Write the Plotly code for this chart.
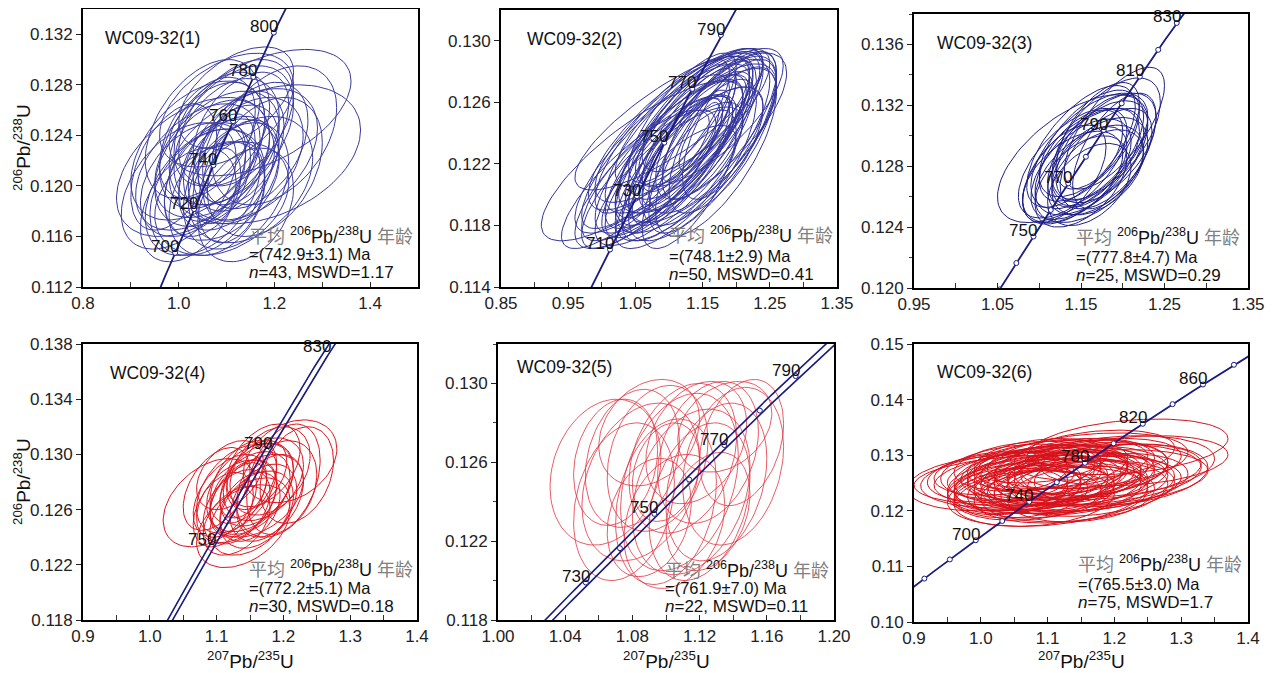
import numpy as np
import plotly.graph_objects as go

# ---------------- constants (U decay) ----------------
LAMBDA_238 = 1.55125e-10
LAMBDA_235 = 9.8485e-10

# ---------------- data: ellipses (cx=207Pb/235U, cy=206Pb/238U, sx, sy, rho) ----------------
P1_ELLIPSES = [
    (1.03, 0.1215, 0.16, 0.0055, 0.45), (1.18, 0.1225, 0.20, 0.0055, 0.35),
    (1.17, 0.1258, 0.19, 0.0050, 0.50), (1.05, 0.1195, 0.12, 0.0050, 0.40),
    (1.10, 0.1210, 0.10, 0.0045, 0.40), (1.08, 0.1225, 0.13, 0.0050, 0.45),
    (1.12, 0.1200, 0.11, 0.0050, 0.35), (1.06, 0.1205, 0.09, 0.0045, 0.40),
    (1.14, 0.1220, 0.12, 0.0050, 0.40), (1.09, 0.1190, 0.14, 0.0045, 0.30),
    (1.00, 0.1200, 0.12, 0.0050, 0.45), (1.11, 0.1240, 0.13, 0.0055, 0.45),
    (1.07, 0.1232, 0.11, 0.0050, 0.40), (1.13, 0.1212, 0.08, 0.0040, 0.35),
    (1.10, 0.1222, 0.06, 0.0035, 0.35), (1.08, 0.1190, 0.10, 0.0045, 0.30),
    (1.04, 0.1228, 0.14, 0.0055, 0.45), (1.15, 0.1205, 0.13, 0.0050, 0.35),
    (1.12, 0.1250, 0.12, 0.0050, 0.45), (1.06, 0.1195, 0.12, 0.0050, 0.35),
    (1.09, 0.1245, 0.10, 0.0045, 0.40), (1.16, 0.1232, 0.11, 0.0050, 0.40),
    (1.02, 0.1185, 0.10, 0.0045, 0.40), (1.11, 0.1195, 0.07, 0.0040, 0.30),
    (1.07, 0.1212, 0.07, 0.0040, 0.40), (1.13, 0.1230, 0.09, 0.0045, 0.40),
    (0.99, 0.1215, 0.09, 0.0050, 0.45), (1.18, 0.1215, 0.12, 0.0055, 0.35),
    (1.10, 0.1260, 0.14, 0.0045, 0.45), (1.05, 0.1245, 0.12, 0.0055, 0.45),
    (1.14, 0.1185, 0.10, 0.0045, 0.30), (1.08, 0.1200, 0.05, 0.0030, 0.30),
    (1.20, 0.1240, 0.13, 0.0055, 0.40), (1.03, 0.1205, 0.11, 0.0045, 0.40),
    (1.12, 0.1270, 0.12, 0.0040, 0.50), (1.10, 0.1235, 0.11, 0.0050, 0.40),
    (1.07, 0.1218, 0.12, 0.0050, 0.40), (1.13, 0.1245, 0.10, 0.0045, 0.45),
    (1.09, 0.1205, 0.12, 0.0048, 0.35), (1.15, 0.1225, 0.14, 0.0052, 0.40),
    (1.04, 0.1215, 0.13, 0.0050, 0.45), (1.12, 0.1222, 0.09, 0.0042, 0.35),
    (1.06, 0.1238, 0.10, 0.0048, 0.45),
]

P2_ELLIPSES = [
    (1.06, 0.1222, 0.150, 0.0052, 0.80), (1.15, 0.1240, 0.125, 0.0052, 0.75),
    (1.12, 0.1235, 0.100, 0.0055, 0.75), (1.10, 0.1225, 0.110, 0.0050, 0.80),
    (1.13, 0.1230, 0.090, 0.0048, 0.78), (1.08, 0.1215, 0.120, 0.0050, 0.80),
    (1.14, 0.1245, 0.100, 0.0048, 0.75), (1.11, 0.1220, 0.080, 0.0045, 0.78),
    (1.16, 0.1235, 0.100, 0.0055, 0.72), (1.09, 0.1230, 0.130, 0.0055, 0.82),
    (1.12, 0.1215, 0.090, 0.0045, 0.75), (1.13, 0.1250, 0.110, 0.0045, 0.78),
    (1.10, 0.1240, 0.120, 0.0050, 0.80), (1.15, 0.1225, 0.080, 0.0050, 0.72),
    (1.07, 0.1210, 0.100, 0.0045, 0.80), (1.17, 0.1245, 0.090, 0.0048, 0.72),
    (1.11, 0.1205, 0.090, 0.0040, 0.75), (1.145, 0.1238, 0.030, 0.0022, 0.80),
    (1.14, 0.1238, 0.050, 0.0030, 0.78), (1.12, 0.1228, 0.060, 0.0035, 0.78),
    (1.13, 0.1242, 0.070, 0.0040, 0.80), (1.09, 0.1218, 0.090, 0.0045, 0.80),
    (1.16, 0.1250, 0.110, 0.0045, 0.75), (1.12, 0.1245, 0.130, 0.0050, 0.80),
    (1.14, 0.1220, 0.100, 0.0050, 0.72), (1.10, 0.1212, 0.110, 0.0045, 0.78),
    (1.18, 0.1238, 0.080, 0.0050, 0.70), (1.11, 0.1235, 0.090, 0.0050, 0.80),
    (1.15, 0.1255, 0.090, 0.0040, 0.75), (1.08, 0.1228, 0.110, 0.0050, 0.82),
    (1.13, 0.1210, 0.070, 0.0045, 0.70), (1.17, 0.1228, 0.090, 0.0055, 0.70),
    (1.12, 0.1250, 0.080, 0.0042, 0.78), (1.09, 0.1238, 0.100, 0.0050, 0.82),
    (1.14, 0.1230, 0.120, 0.0055, 0.75), (1.10, 0.1248, 0.140, 0.0045, 0.82),
    (1.13, 0.1220, 0.110, 0.0050, 0.76), (1.16, 0.1242, 0.070, 0.0045, 0.72),
    (1.05, 0.1210, 0.110, 0.0045, 0.82), (1.19, 0.1245, 0.070, 0.0048, 0.70),
    (1.11, 0.1228, 0.105, 0.0050, 0.80), (1.14, 0.1235, 0.085, 0.0045, 0.76),
    (1.12, 0.1240, 0.115, 0.0052, 0.78), (1.10, 0.1218, 0.095, 0.0046, 0.80),
    (1.15, 0.1232, 0.110, 0.0050, 0.74), (1.13, 0.1238, 0.095, 0.0050, 0.78),
    (1.09, 0.1222, 0.120, 0.0052, 0.82), (1.16, 0.1238, 0.090, 0.0050, 0.72),
    (1.12, 0.1222, 0.075, 0.0042, 0.76), (1.14, 0.1248, 0.085, 0.0042, 0.76),
]

P3_ELLIPSES = [
    (1.14, 0.1285, 0.090, 0.0042, 0.60), (1.19, 0.1305, 0.060, 0.0040, 0.70),
    (1.16, 0.1283, 0.065, 0.0035, 0.55), (1.15, 0.1278, 0.060, 0.0033, 0.55),
    (1.17, 0.1288, 0.060, 0.0035, 0.55), (1.15, 0.1280, 0.070, 0.0038, 0.60),
    (1.16, 0.1275, 0.065, 0.0032, 0.50), (1.17, 0.1292, 0.055, 0.0035, 0.60),
    (1.14, 0.1273, 0.060, 0.0030, 0.50), (1.18, 0.1285, 0.055, 0.0033, 0.55),
    (1.16, 0.1290, 0.070, 0.0038, 0.60), (1.15, 0.1270, 0.055, 0.0030, 0.50),
    (1.17, 0.1280, 0.060, 0.0032, 0.50), (1.16, 0.1295, 0.060, 0.0035, 0.60),
    (1.18, 0.1298, 0.065, 0.0040, 0.60), (1.14, 0.1282, 0.065, 0.0036, 0.60),
    (1.15, 0.1287, 0.050, 0.0030, 0.55), (1.17, 0.1276, 0.055, 0.0028, 0.45),
    (1.16, 0.1280, 0.045, 0.0026, 0.50), (1.18, 0.1292, 0.060, 0.0036, 0.55),
    (1.15, 0.1293, 0.065, 0.0040, 0.65), (1.13, 0.1275, 0.050, 0.0032, 0.55),
    (1.17, 0.1300, 0.050, 0.0035, 0.60), (1.19, 0.1290, 0.050, 0.0038, 0.60),
    (1.16, 0.1268, 0.050, 0.0027, 0.45),
]

P4_ELLIPSES = [
    (1.09, 0.1265, 0.070, 0.0032, 0.40), (1.21, 0.1295, 0.070, 0.0030, 0.30),
    (1.14, 0.1248, 0.070, 0.0030, 0.40), (1.15, 0.1272, 0.060, 0.0030, 0.40),
    (1.14, 0.1268, 0.050, 0.0028, 0.40), (1.16, 0.1278, 0.055, 0.0030, 0.40),
    (1.13, 0.1262, 0.050, 0.0027, 0.40), (1.17, 0.1282, 0.060, 0.0030, 0.35),
    (1.12, 0.1270, 0.055, 0.0030, 0.45), (1.15, 0.1262, 0.045, 0.0025, 0.35),
    (1.18, 0.1288, 0.060, 0.0032, 0.35), (1.16, 0.1270, 0.070, 0.0030, 0.40),
    (1.13, 0.1275, 0.060, 0.0032, 0.45), (1.17, 0.1265, 0.050, 0.0028, 0.35),
    (1.14, 0.1280, 0.050, 0.0030, 0.45), (1.19, 0.1275, 0.060, 0.0035, 0.30),
    (1.11, 0.1260, 0.045, 0.0027, 0.40), (1.16, 0.1285, 0.045, 0.0025, 0.40),
    (1.15, 0.1255, 0.060, 0.0028, 0.40), (1.20, 0.1282, 0.055, 0.0040, 0.35),
    (1.12, 0.1285, 0.050, 0.0025, 0.40), (1.18, 0.1270, 0.050, 0.0030, 0.35),
    (1.14, 0.1274, 0.035, 0.0020, 0.40), (1.10, 0.1275, 0.050, 0.0030, 0.45),
    (1.16, 0.1260, 0.055, 0.0028, 0.35), (1.22, 0.1285, 0.055, 0.0035, 0.30),
    (1.13, 0.1252, 0.050, 0.0025, 0.40), (1.17, 0.1292, 0.055, 0.0030, 0.40),
    (1.15, 0.1276, 0.065, 0.0032, 0.40), (1.13, 0.1266, 0.060, 0.0030, 0.40),
]

P5_ELLIPSES = [
    (1.064, 0.1255, 0.033, 0.0037, 0.20), (1.140, 0.1258, 0.030, 0.0040, 0.25),
    (1.125, 0.1265, 0.030, 0.0036, 0.30), (1.100, 0.1240, 0.030, 0.0042, 0.25),
    (1.085, 0.1250, 0.035, 0.0040, 0.30), (1.110, 0.1262, 0.032, 0.0038, 0.30),
    (1.095, 0.1262, 0.030, 0.0037, 0.25), (1.075, 0.1240, 0.030, 0.0040, 0.25),
    (1.130, 0.1250, 0.030, 0.0040, 0.30), (1.105, 0.1230, 0.030, 0.0034, 0.25),
    (1.118, 0.1270, 0.030, 0.0031, 0.30), (1.090, 0.1275, 0.030, 0.0027, 0.25),
    (1.145, 0.1270, 0.025, 0.0032, 0.30), (1.080, 0.1262, 0.028, 0.0035, 0.25),
    (1.115, 0.1245, 0.035, 0.0042, 0.30), (1.100, 0.1255, 0.020, 0.0025, 0.25),
    (1.120, 0.1240, 0.030, 0.0040, 0.30), (1.090, 0.1232, 0.025, 0.0030, 0.25),
    (1.135, 0.1278, 0.028, 0.0023, 0.30), (1.070, 0.1260, 0.025, 0.0032, 0.20),
    (1.108, 0.1250, 0.035, 0.0045, 0.30), (1.125, 0.1235, 0.025, 0.0030, 0.30),
]

P6_ELLIPSES = [
    (1.07, 0.1255, 0.170, 0.0045, 0.20), (1.22, 0.1315, 0.150, 0.0050, 0.30),
    (1.10, 0.1230, 0.150, 0.0058, 0.25), (1.12, 0.1265, 0.140, 0.0050, 0.25),
    (1.08, 0.1250, 0.120, 0.0050, 0.25), (1.15, 0.1275, 0.130, 0.0052, 0.25),
    (1.05, 0.1240, 0.100, 0.0045, 0.20), (1.18, 0.1260, 0.160, 0.0050, 0.25),
    (1.10, 0.1270, 0.120, 0.0048, 0.25), (1.13, 0.1245, 0.120, 0.0050, 0.25),
    (1.03, 0.1260, 0.110, 0.0045, 0.20), (1.16, 0.1290, 0.150, 0.0050, 0.30),
    (1.09, 0.1235, 0.110, 0.0048, 0.20), (1.11, 0.1255, 0.100, 0.0045, 0.25),
    (1.20, 0.1280, 0.150, 0.0055, 0.25), (1.06, 0.1270, 0.120, 0.0050, 0.25),
    (1.14, 0.1235, 0.140, 0.0055, 0.25), (1.12, 0.1285, 0.130, 0.0045, 0.30),
    (1.08, 0.1222, 0.120, 0.0050, 0.20), (1.17, 0.1250, 0.120, 0.0050, 0.25),
    (1.04, 0.1245, 0.090, 0.0045, 0.20), (1.10, 0.1260, 0.080, 0.0040, 0.25),
    (1.13, 0.1270, 0.090, 0.0040, 0.25), (1.07, 0.1280, 0.110, 0.0045, 0.25),
    (1.19, 0.1270, 0.140, 0.0050, 0.30), (1.15, 0.1258, 0.110, 0.0048, 0.25),
    (1.09, 0.1262, 0.130, 0.0052, 0.25), (1.11, 0.1240, 0.090, 0.0040, 0.20),
    (1.23, 0.1290, 0.140, 0.0045, 0.25), (1.02, 0.1250, 0.130, 0.0050, 0.20),
    (1.14, 0.1280, 0.120, 0.0050, 0.30), (1.06, 0.1232, 0.100, 0.0045, 0.20),
    (1.16, 0.1240, 0.130, 0.0050, 0.25), (1.12, 0.1250, 0.160, 0.0055, 0.25),
    (1.08, 0.1275, 0.090, 0.0040, 0.25), (1.18, 0.1285, 0.120, 0.0045, 0.30),
    (1.10, 0.1245, 0.140, 0.0050, 0.25), (1.13, 0.1262, 0.150, 0.0055, 0.25),
    (1.05, 0.1255, 0.140, 0.0050, 0.20), (1.21, 0.1265, 0.130, 0.0055, 0.25),
    (1.09, 0.1290, 0.100, 0.0040, 0.30), (1.15, 0.1230, 0.110, 0.0050, 0.20),
    (1.11, 0.1275, 0.110, 0.0045, 0.25), (1.07, 0.1242, 0.080, 0.0040, 0.20),
    (1.17, 0.1300, 0.120, 0.0045, 0.30), (1.06, 0.1262, 0.110, 0.0045, 0.25),
    (1.12, 0.1258, 0.120, 0.0048, 0.25), (1.09, 0.1248, 0.100, 0.0045, 0.20),
    (1.14, 0.1265, 0.100, 0.0045, 0.25), (1.04, 0.1235, 0.090, 0.0042, 0.20),
    (1.17, 0.1275, 0.110, 0.0048, 0.25), (1.10, 0.1282, 0.120, 0.0045, 0.30),
    (1.13, 0.1238, 0.110, 0.0045, 0.20), (1.08, 0.1258, 0.150, 0.0050, 0.25),
    (1.15, 0.1248, 0.150, 0.0050, 0.25), (1.11, 0.1268, 0.140, 0.0050, 0.25),
    (1.07, 0.1228, 0.110, 0.0045, 0.20), (1.19, 0.1255, 0.120, 0.0048, 0.25),
    (1.03, 0.1268, 0.100, 0.0040, 0.25), (1.12, 0.1228, 0.130, 0.0050, 0.20),
    (1.16, 0.1265, 0.170, 0.0055, 0.25),
]

# concordia age labels / markers (Ma)
P1_LABEL_AGES = [700, 720, 740, 760, 780, 800]
P2_LABEL_AGES = [710, 730, 750, 770, 790]
P3_LABEL_AGES = [750, 770, 790, 810, 830]
P4_LABEL_AGES = [750, 790, 830]
P5_LABEL_AGES = [730, 750, 770, 790]
P6_LABEL_AGES = [700, 740, 780, 820, 860]

P1_MARK_AGES = [700, 720, 740, 760, 780, 800]
P2_MARK_AGES = [710, 730, 750, 770, 790]
P3_MARK_AGES = [730, 740, 750, 760, 770, 780, 790, 800, 810, 820, 830]
P4_MARK_AGES = []
P5_MARK_AGES = [730, 740, 750, 760, 770, 780, 790]
P6_MARK_AGES = [660, 680, 700, 720, 740, 760, 780, 800, 820, 840, 860, 880]

SAMPLES = ["WC09-32(1)", "WC09-32(2)", "WC09-32(3)", "WC09-32(4)", "WC09-32(5)", "WC09-32(6)"]
AGES = ["742.9±3.1", "748.1±2.9", "777.8±4.7", "772.2±5.1", "761.9±7.0", "765.5±3.0"]
N_SPOTS = [43, 50, 25, 30, 22, 75]
MSWD = ["1.17", "0.41", "0.29", "0.18", "0.11", "1.7"]

# axis ticks
P1_XTICKS = [0.8, 1.0, 1.2, 1.4]
P1_YTICKS = [0.112, 0.116, 0.120, 0.124, 0.128, 0.132]
P2_XTICKS = [0.85, 0.95, 1.05, 1.15, 1.25, 1.35]
P2_YTICKS = [0.114, 0.118, 0.122, 0.126, 0.130]
P3_XTICKS = [0.95, 1.05, 1.15, 1.25, 1.35]
P3_YTICKS = [0.120, 0.124, 0.128, 0.132, 0.136]
P4_XTICKS = [0.9, 1.0, 1.1, 1.2, 1.3, 1.4]
P4_YTICKS = [0.118, 0.122, 0.126, 0.130, 0.134, 0.138]
P5_XTICKS = [1.00, 1.04, 1.08, 1.12, 1.16, 1.20]
P5_YTICKS = [0.118, 0.122, 0.126, 0.130]
P6_XTICKS = [0.9, 1.0, 1.1, 1.2, 1.3, 1.4]
P6_YTICKS = [0.10, 0.11, 0.12, 0.13, 0.14, 0.15]

# ---------------- styling / layout ----------------
PAGE_MARGIN = 8                      # default <body> margin of the page
W, H = 1277 - PAGE_MARGIN, 673 - PAGE_MARGIN
BOXES = [  # pixel boxes in the window: left, right, top, bottom
    (83, 418, 9, 287), (501, 837, 10, 287), (914, 1248, 14, 288),
    (83, 417, 344, 620), (498, 834, 344, 620), (914, 1248, 344, 622),
]
PANELS = [
    dict(ell=P1_ELLIPSES, color="#3a3aa0", lw=1.0, xr=[0.8, 1.5], yr=[0.112, 0.134],
         xt=P1_XTICKS, xf="{:.1f}", xminor=0.1, yt=P1_YTICKS, yf="{:.3f}", yminor=None,
         lab=P1_LABEL_AGES, mk=P1_MARK_AGES, env=0.0, stat_x=0.49, stat_y=(52, 33, 15),
         name_xy=(0.06, 0.896)),
    dict(ell=P2_ELLIPSES, color="#33339c", lw=1.0, xr=[0.85, 1.35], yr=[0.114, 0.132],
         xt=P2_XTICKS, xf="{:.2f}", xminor=0.05, yt=P2_YTICKS, yf="{:.3f}", yminor=None,
         lab=P2_LABEL_AGES, mk=P2_MARK_AGES, env=0.0, stat_x=0.494, stat_y=(52, 31, 13),
         name_xy=(0.071, 0.895)),
    dict(ell=P3_ELLIPSES, color="#1e1e88", lw=1.0, xr=[0.95, 1.35], yr=[0.120, 0.138],
         xt=P3_XTICKS, xf="{:.2f}", xminor=0.05, yt=P3_YTICKS, yf="{:.3f}", yminor=0.002,
         lab=P3_LABEL_AGES, mk=P3_MARK_AGES, env=0.0, stat_x=0.479, stat_y=(51, 31, 13),
         name_xy=(0.063, 0.894)),
    dict(ell=P4_ELLIPSES, color="#e0141e", lw=1.0, xr=[0.9, 1.4], yr=[0.118, 0.138],
         xt=P4_XTICKS, xf="{:.1f}", xminor=0.05, yt=P4_YTICKS, yf="{:.3f}", yminor=None,
         lab=P4_LABEL_AGES, mk=P4_MARK_AGES, env=0.0026, stat_x=0.491, stat_y=(52, 32, 14),
         name_xy=(0.075, 0.895)),
    dict(ell=P5_ELLIPSES, color="#e23240", lw=0.8, xr=[1.00, 1.20], yr=[0.118, 0.132],
         xt=P5_XTICKS, xf="{:.2f}", xminor=0.02, yt=P5_YTICKS, yf="{:.3f}", yminor=0.002,
         lab=P5_LABEL_AGES, mk=P5_MARK_AGES, env=0.0016, stat_x=0.491, stat_y=(51, 32, 14),
         name_xy=(0.05, 0.917)),
    dict(ell=P6_ELLIPSES, color="#d8101a", lw=1.0, xr=[0.9, 1.4], yr=[0.10, 0.15],
         xt=P6_XTICKS, xf="{:.1f}", xminor=0.05, yt=P6_YTICKS, yf="{:.2f}", yminor=None,
         lab=P6_LABEL_AGES, mk=P6_MARK_AGES, env=0.0, stat_x=0.485, stat_y=(59, 38, 20),
         name_xy=(0.063, 0.9)),
]
CONC_COLOR = "#1a1a80"
FONT = "Liberation Sans, Arial, Noto Sans CJK SC, sans-serif"


def conc_xy(t_ma, lam235=LAMBDA_235):
    t = np.asarray(t_ma, dtype=float) * 1e6
    return np.exp(lam235 * t) - 1.0, np.exp(LAMBDA_238 * t) - 1.0


def ellipse(cx, cy, sx, sy, rho, n=90):
    th = np.linspace(0, 2 * np.pi, n)
    x = cx + sx * np.cos(th)
    y = cy + sy * (rho * np.cos(th) + np.sqrt(1 - rho ** 2) * np.sin(th))
    return x, y


def px_x(v):
    return (v - PAGE_MARGIN) / W


def px_y(v):
    return 1 - (v - PAGE_MARGIN) / H


fig = go.Figure()
annotations = []
layout = {}
t_curve = np.arange(550, 1001, 1)

for i, (p, box) in enumerate(zip(PANELS, BOXES), start=1):
    sfx = "" if i == 1 else str(i)
    xa, ya = "x" + sfx, "y" + sfx
    l, r, t, b = box
    xs, ys = [], []
    for (cx, cy, sx, sy, rho) in p["ell"]:
        ex, ey = ellipse(cx, cy, sx, sy, rho)
        xs += list(ex) + [None]
        ys += list(ey) + [None]
    fig.add_trace(go.Scatter(x=xs, y=ys, mode="lines", xaxis=xa, yaxis=ya,
                             line=dict(color=p["color"], width=p["lw"]),
                             hoverinfo="skip", showlegend=False))
    if p["env"] > 0:
        for s in (-1, 1):
            cx_, cy_ = conc_xy(t_curve, LAMBDA_235 * (1 + s * p["env"]))
            fig.add_trace(go.Scatter(x=cx_, y=cy_, mode="lines", xaxis=xa, yaxis=ya,
                                     line=dict(color=CONC_COLOR, width=1.6),
                                     hoverinfo="skip", showlegend=False))
    else:
        cx_, cy_ = conc_xy(t_curve)
        fig.add_trace(go.Scatter(x=cx_, y=cy_, mode="lines", xaxis=xa, yaxis=ya,
                                 line=dict(color=CONC_COLOR, width=1.8),
                                 hoverinfo="skip", showlegend=False))
    if p["mk"]:
        mx, my = conc_xy(p["mk"])
        fig.add_trace(go.Scatter(x=mx, y=my, mode="markers", xaxis=xa, yaxis=ya,
                                 marker=dict(symbol="circle", size=5, color="white",
                                             line=dict(color=CONC_COLOR, width=1)),
                                 hoverinfo="skip", showlegend=False, cliponaxis=True))
    lx, ly = conc_xy(p["lab"])
    for age, x0, y0 in zip(p["lab"], lx, ly):
        if p["xr"][0] <= x0 <= p["xr"][1] and p["yr"][0] <= y0 <= p["yr"][1] + 1e-4:
            annotations.append(dict(x=x0, y=y0, xref=xa, yref=ya, text=str(age),
                                    showarrow=False, xanchor="right", yanchor="middle",
                                    xshift=6, yshift=6,
                                    font=dict(size=17, color="#111", family=FONT)))
    xdom = [px_x(l), px_x(r)]
    ydom = [px_y(b), px_y(t)]
    xminor = list(np.round(np.arange(p["xr"][0], p["xr"][1] + 1e-9, p["xminor"]), 4))
    ymin_d = dict(ticks="")
    if p["yminor"]:
        ymin_d = dict(tickvals=list(np.round(np.arange(p["yr"][0], p["yr"][1] + 1e-9,
                                                       p["yminor"]), 4)),
                      ticks="outside", ticklen=3, tickcolor="#444")
    layout["xaxis" + sfx] = dict(
        domain=xdom, range=p["xr"], anchor=ya, tickvals=p["xt"], automargin=False,
        ticktext=[p["xf"].format(v) for v in p["xt"]],
        ticks="inside", ticklen=5, tickcolor="#222", showgrid=False, zeroline=False,
        showline=True, linecolor="black", linewidth=2, mirror=True,
        tickfont=dict(size=17, color="#222", family=FONT),
        minor=dict(tickvals=xminor, ticks="inside", ticklen=5, tickcolor="#333"))
    layout["yaxis" + sfx] = dict(
        domain=ydom, range=p["yr"], anchor=xa, tickvals=p["yt"], automargin=False,
        ticktext=[p["yf"].format(v) for v in p["yt"]],
        ticks="outside", ticklen=5, tickcolor="#222", showgrid=False, zeroline=False,
        showline=True, linecolor="black", linewidth=2, mirror=True,
        tickfont=dict(size=17, color="#222", family=FONT), minor=ymin_d)
    annotations.append(dict(x=p["name_xy"][0], y=p["name_xy"][1], xref=xa + " domain",
                            yref=ya + " domain", text=SAMPLES[i - 1], showarrow=False,
                            xanchor="left", yanchor="middle",
                            font=dict(size=17.5, color="#111", family=FONT)))
    ph = b - t
    s1, s2, s3 = p["stat_y"]
    lines = [
        ('<span style="color:#808080">平均</span> <sup>206</sup>Pb/<sup>238</sup>U '
         '<span style="color:#808080">年龄</span>', s1, 18),
        ("=(" + AGES[i - 1] + ") Ma", s2, 16.5),
        ("<i>n</i>=" + str(N_SPOTS[i - 1]) + ", MSWD=" + MSWD[i - 1], s3, 17),
    ]
    for txt, off, fs in lines:
        annotations.append(dict(x=p["stat_x"], y=off / ph, xref=xa + " domain",
                                yref=ya + " domain", text=txt, showarrow=False,
                                xanchor="left", yanchor="middle",
                                font=dict(size=fs, color="#111", family=FONT)))

# axis titles (left column y, bottom row x)
YT = "<sup>206</sup>Pb/<sup>238</sup>U"
XT = "<sup>207</sup>Pb/<sup>235</sup>U"
for yc in [(9 + 287) / 2, (344 + 620) / 2]:
    annotations.append(dict(x=px_x(22), y=px_y(yc), xref="paper", yref="paper", text=YT,
                            showarrow=False, textangle=-90, xanchor="center",
                            yanchor="middle", font=dict(size=19, color="#111", family=FONT)))
for xc in [(83 + 417) / 2, (498 + 834) / 2, (914 + 1248) / 2]:
    annotations.append(dict(x=px_x(xc), y=px_y(660), xref="paper", yref="paper", text=XT,
                            showarrow=False, xanchor="center", yanchor="middle",
                            font=dict(size=19, color="#111", family=FONT)))

fig.update_layout(width=W, height=H, margin=dict(l=0, r=0, t=0, b=0, autoexpand=False),
                  paper_bgcolor="white", plot_bgcolor="white", showlegend=False,
                  font=dict(family=FONT), annotations=annotations, **layout)
fig.write_html("out.html")
